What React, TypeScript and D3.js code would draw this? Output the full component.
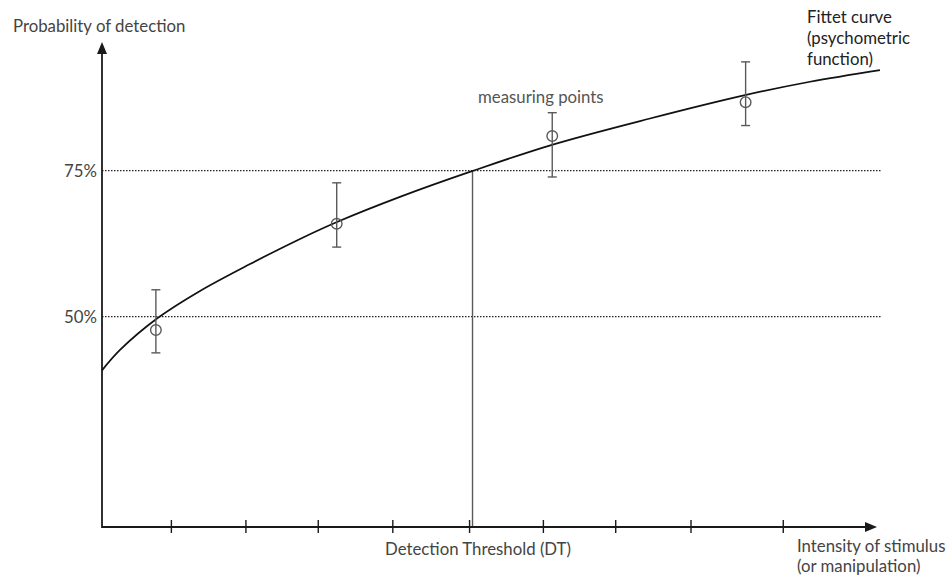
import * as d3 from 'd3';

// x in stimulus units (arbitrary), y in percent detection
const xTicks = [0.94, 1.95, 2.93, 3.94, 4.98, 5.98, 6.96, 7.98, 9.23];
const refLevels = [50, 75];
const thresholdX = 5.02;
const thresholdY = 75;

const pointX = [0.73, 3.18, 6.1, 8.72];
const pointY = [47.7, 65.9, 80.9, 86.7];
const pointLow = [43.8, 61.9, 73.9, 82.7];
const pointHigh = [54.6, 72.9, 84.9, 93.6];

// fitted curve
const curveX = [0, 0.244, 0.759, 1.328, 2.005, 2.683, 3.184, 4.037, 5.013, 6.097, 7.424, 8.712, 9.592, 10.54];
const curveY = [40.8, 44.3, 49.8, 54.4, 59.0, 63.3, 66.2, 70.5, 74.9, 79.4, 83.9, 87.9, 90.2, 92.2];

const W = 952;
const H = 579;
const FONT = 'Lato, "Open Sans", sans-serif';
const FS = 16.8;
const TEXT = '#444';
const AXIS = '#1a1a1a';
const GREY = '#5a5a5a';

export default function App() {
  const x = d3.scaleLinear().domain([0, 10.5]).range([102, 877]);
  const y = d3.scaleLinear().domain([14, 97]).range([527, 42]);

  const x0 = x(0);
  const y0 = y(14);
  const xEnd = x(10.5);
  const yTop = y(97);

  const line = d3
    .line<number>()
    .x((_, i) => x(curveX[i]))
    .y((d) => y(d))
    .curve(d3.curveCatmullRom.alpha(0.5));

  return (
    <div style={{ position: 'absolute', left: 0, top: 0 }}>
      <svg width={W} height={H} style={{ display: 'block', background: '#fff' }}>
        {/* reference dotted lines */}
        {refLevels.map((v) => (
          <g key={v}>
            <line
              x1={x0}
              x2={882}
              y1={y(v)}
              y2={y(v)}
              stroke="#222"
              strokeWidth={1.2}
              strokeDasharray="1.5,1.5"
            />
            <text
              x={97}
              y={y(v) + 6}
              textAnchor="end"
              fontFamily={FONT}
              fontSize={FS}
              fill={TEXT}
            >
              {v}%
            </text>
          </g>
        ))}

        {/* threshold vertical */}
        <line
          x1={x(thresholdX)}
          x2={x(thresholdX)}
          y1={y(thresholdY)}
          y2={y0}
          stroke={GREY}
          strokeWidth={1.4}
        />

        {/* axes */}
        <line x1={x0} x2={xEnd - 8} y1={y0} y2={y0} stroke={AXIS} strokeWidth={1.8} />
        <line x1={x0} x2={x0} y1={y0 + 1} y2={yTop + 8} stroke={AXIS} strokeWidth={1.8} />
        <path
          d={`M${xEnd},${y0} L${xEnd - 12},${y0 - 5} L${xEnd - 12},${y0 + 5} Z`}
          fill={AXIS}
        />
        <path
          d={`M${x0},${yTop} L${x0 - 5},${yTop + 12} L${x0 + 5},${yTop + 12} Z`}
          fill={AXIS}
        />
        {xTicks.map((t) => (
          <line
            key={t}
            x1={x(t)}
            x2={x(t)}
            y1={y0 - 7}
            y2={y0 + 6}
            stroke={AXIS}
            strokeWidth={1.4}
          />
        ))}

        {/* fitted curve */}
        <path d={line(curveY) || ''} fill="none" stroke="#111" strokeWidth={1.7} />

        {/* measuring points with error bars */}
        {pointX.map((px, i) => (
          <g key={px} stroke={GREY} strokeWidth={1.4}>
            <line x1={x(px)} x2={x(px)} y1={y(pointHigh[i])} y2={y(pointLow[i])} />
            <line x1={x(px) - 4.5} x2={x(px) + 4.5} y1={y(pointHigh[i])} y2={y(pointHigh[i])} />
            <line x1={x(px) - 4.5} x2={x(px) + 4.5} y1={y(pointLow[i])} y2={y(pointLow[i])} />
            <circle cx={x(px)} cy={y(pointY[i])} r={5.3} fill="none" />
          </g>
        ))}

        {/* labels */}
        <g fontFamily={FONT} fontSize={FS} fill={TEXT}>
          <text x={13} y={32}>Probability of detection</text>
          <text x={478} y={103} fill="#555">measuring points</text>
          <text x={478} y={555} textAnchor="middle">Detection Threshold (DT)</text>
          <text x={797} y={552}>Intensity of stimulus</text>
          <text x={797} y={572}>(or manipulation)</text>
          <text x={807} y={23} fill="#222">Fittet curve</text>
          <text x={807} y={44} fill="#222">(psychometric</text>
          <text x={807} y={65} fill="#222">function)</text>
        </g>
      </svg>
    </div>
  );
}
